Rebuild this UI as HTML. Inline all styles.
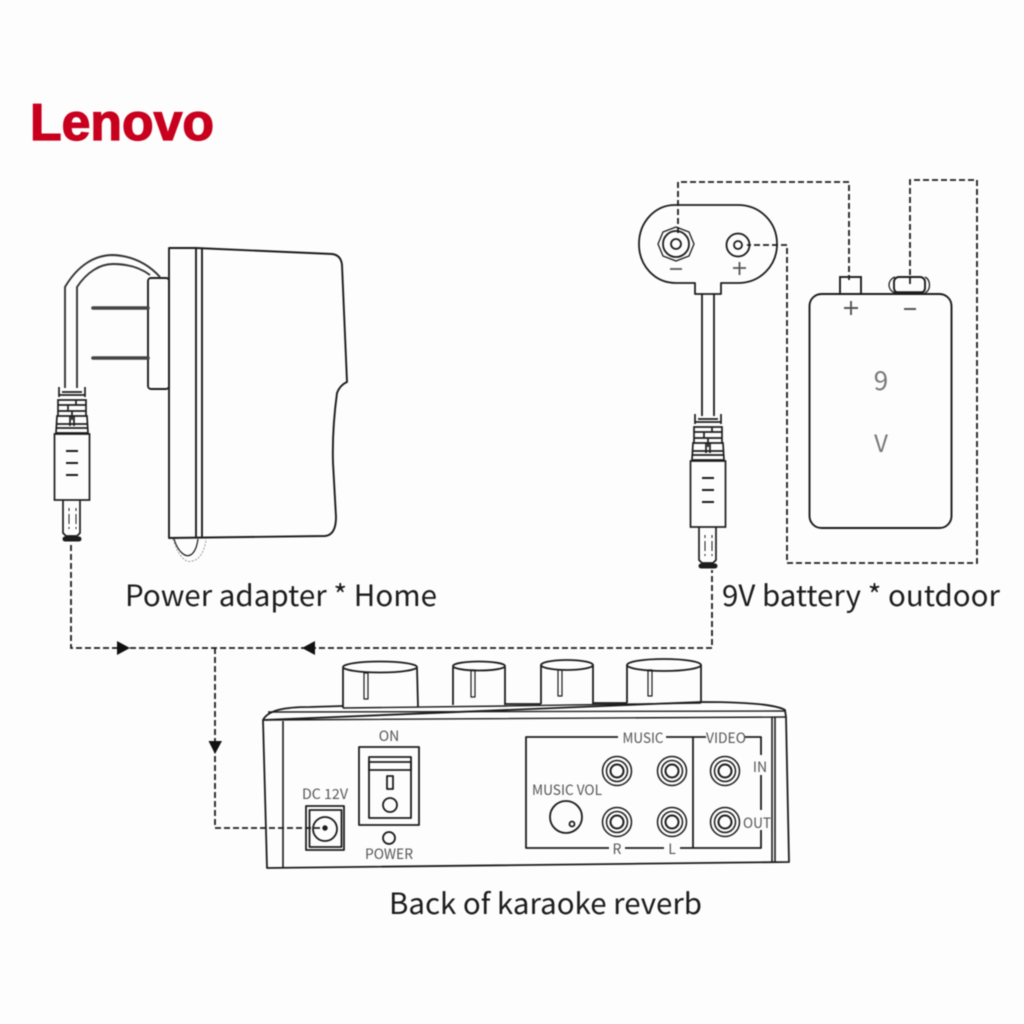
<!DOCTYPE html>
<html><head><meta charset="utf-8"><style>
html,body{margin:0;padding:0;background:#fdfdfd}
svg{display:block;filter:blur(.5px)}
text{font-family:"Noto Sans CJK SC","Liberation Sans",sans-serif}
.g{fill:#555;font-size:14px;text-anchor:middle}
.c{fill:#1c1c1c;font-size:29px}
</style></head><body>
<svg width="1024" height="1024" viewBox="0 0 1024 1024" xmlns="http://www.w3.org/2000/svg">
<defs>
<g id="conn" fill="none" stroke="#1c1c1c" stroke-width="1.700">
<path d="M59 387V397M85 387V397M59 395H85M62 392H82M58 400H86V416H58ZM58 405H86M58 411H86M68 405V411M76 400V405M72 411V420M57 416H87L88 433H56ZM56 424H88M56 428H88M70 416V426M74 416V426"/>
<rect x="54.500" y="434" width="35" height="66" fill="#fdfdfd"/>
<path d="M66 451H78M66 463H78M66 475H78" stroke-width="2"/>
<path d="M63 500V533L66 536H77L80 533V500"/>
<path d="M69 508V511M76 508V511M69 514V524M76 514V524M69 527V529M76 527V529" stroke-width="1"/>
<path d="M65 539H79" stroke-width="5" stroke-linecap="round"/>
</g>
</defs>
<rect width="1024" height="1024" fill="#fdfdfd"/>

<!-- Logo -->
<text x="30" y="140" font-size="52" font-weight="700" fill="#c8001e" stroke="#c8001e" stroke-width="1.300" textLength="184" lengthAdjust="spacingAndGlyphs" style='font-family:"Liberation Sans",sans-serif'>Lenovo</text>

<!-- Adapter -->
<g fill="none" stroke="#1c1c1c" stroke-width="1.900" stroke-linejoin="round">
<path d="M169 248L196 248 332 254Q341 255 342 265L347 382Q340 385 337 393 332 430 333 463L336 517Q336 535 325 536L169 538Z"/>
<path d="M196 248V538M202 248V538"/>
<rect x="148" y="278" width="21" height="111" rx="3"/>
<path d="M148 308H93M148 358H93" stroke-width="3.600" stroke="#444" stroke-linecap="round"/>
<path d="M65 388V287C78 265 95 255 113 255 135 256 150 266 160 277" stroke="#333"/>
<path d="M77 388V287C87 272 100 264 113 264 130 264 142 269 150 275" stroke="#333"/>
<path d="M174 539C178 552 186 559 192 554 196 550 197 545 198 539" stroke-width="1.200"/>
<path d="M173 539C177 552 184 564 192 561 200 560 205 550 206 539" stroke="#999" stroke-width="1" stroke-dasharray="2 1.500"/>
</g>
<use href="#conn"/>

<!-- Battery clip -->
<g fill="none" stroke="#1c1c1c" stroke-width="1.800" stroke-linejoin="round">
<path d="M675 205H738C760 205 777 222 777 244 777 266 760 283 738 283H721V294H695V283H676C655 283 639 266 639 244 639 222 655 205 675 205Z"/>
<path d="M702 294V416M714 294V416"/>
<path d="M676 227L689 232 694 244 689 256 676 261 663 256 658 244 663 232Z" stroke-width="1.300"/>
<circle cx="676" cy="244" r="13"/><circle cx="676" cy="244" r="5"/>
<circle cx="738" cy="245" r="11.500"/><circle cx="738" cy="245" r="4"/>
<path d="M670 269H682M733 268H746M739.500 262V275" stroke="#555"/>
</g>
<use href="#conn" transform="translate(636 27)"/>

<!-- Battery -->
<g fill="none" stroke="#1c1c1c" stroke-width="1.900">
<rect x="809.500" y="294" width="142" height="234" rx="12"/>
<rect x="840" y="277" width="21" height="17"/>
<rect x="894" y="277" width="31" height="16" rx="5"/>
<path d="M895 277C887 280 887 290 895 293M925 277C931 280 931 290 925 293" stroke-width="1.300"/>
<path d="M895 293H924" stroke-width="3.500"/>
<path d="M844 308H858M851 301V315M904 309H916" stroke="#555"/>
</g>
<text x="881" y="390" fill="#777" font-size="26" text-anchor="middle">9</text>
<text x="881" y="452" fill="#777" font-size="24" text-anchor="middle">V</text>

<!-- Dashed -->
<g fill="none" stroke="#1c1c1c" stroke-width="1.800" stroke-dasharray="6 3">
<path d="M678 233V182H849V280"/>
<path d="M910 284V180H977V563H787V245H747"/>
<path d="M71 545V648H712V570"/>
<path d="M215 648V828H322"/>
</g>
<path d="M117 641L130 648 117 655ZM315 641L302 648 315 655ZM208.500 741H222L215 754Z" fill="#111"/>

<!-- Device -->
<g fill="none" stroke="#1c1c1c" stroke-width="1.800" stroke-linejoin="round">
<path d="M263 720C268 710 285 707 310 707L343 706M505 704H541M593 703H627M701 702C745 702 775 704 785 710L786 717 789 862 267 868 263 720Z"/>
<path d="M343 708L505 706 701 703M268 712L785 711M265 720L786 717" stroke-width="1.400"/>
<path d="M283 721V868M772 717V862M775 717V862" stroke-width="1.600"/>
<path d="M343 668V708M417 668L418 707"/>
<ellipse cx="380" cy="667" rx="37" ry="5.500"/>
<path d="M453 667V705M505 667V705"/><ellipse cx="479" cy="666" rx="26" ry="4.500"/>
<path d="M541 665V704M593 665V704"/><ellipse cx="567" cy="665" rx="26" ry="5"/>
<path d="M627 665V703M701 665V703"/><ellipse cx="664" cy="665" rx="37" ry="6"/>
<rect x="364" y="673" width="4" height="26" stroke-width="1.200"/>
<rect x="471" y="670" width="4" height="27" stroke-width="1.200"/>
<rect x="558" y="670" width="4" height="26" stroke-width="1.200"/>
<rect x="648" y="670" width="4" height="26" stroke-width="1.200"/>

<rect x="306" y="806" width="38" height="44"/>
<rect x="309.500" y="810" width="32" height="37"/>
<circle cx="325" cy="829" r="12"/>
<circle cx="325" cy="828" r="1.800" fill="#222"/>

<rect x="359" y="747" width="60" height="78"/>
<rect x="369" y="757" width="42" height="61"/>
<path d="M369 762H411V770H369Z"/>
<rect x="387" y="776" width="6" height="13"/>
<circle cx="390" cy="805" r="7"/>
<circle cx="389" cy="838" r="6"/>

<path d="M618 737H526V848H609M625 848H664M680 848H761V830M761 810V775M761 755V737H745M706 737H666M693 737V848"/>
<circle cx="566" cy="817" r="16"/><circle cx="572" cy="824" r="2.500"/>
<g stroke-width="1.500">
<circle cx="617" cy="771" r="14.500"/><circle cx="617" cy="771" r="10.500"/><circle cx="617" cy="771" r="6.500" stroke-width="2"/>
<circle cx="672" cy="771" r="14.500"/><circle cx="672" cy="771" r="10.500"/><circle cx="672" cy="771" r="6.500" stroke-width="2"/>
<circle cx="725" cy="771" r="14.500"/><circle cx="725" cy="771" r="10.500"/><circle cx="725" cy="771" r="6.500" stroke-width="2"/>
<circle cx="617" cy="822" r="14.500"/><circle cx="617" cy="822" r="10.500"/><circle cx="617" cy="822" r="6.500" stroke-width="2"/>
<circle cx="672" cy="822" r="14.500"/><circle cx="672" cy="822" r="10.500"/><circle cx="672" cy="822" r="6.500" stroke-width="2"/>
<circle cx="725" cy="822" r="14.500"/><circle cx="725" cy="822" r="10.500"/><circle cx="725" cy="822" r="6.500" stroke-width="2"/>
</g>
</g>
<text class="g" x="389" y="741">ON</text>
<text class="g" x="389" y="859" textLength="48" lengthAdjust="spacingAndGlyphs">POWER</text>
<text class="g" x="325" y="799" textLength="46" lengthAdjust="spacingAndGlyphs">DC 12V</text>
<text class="g" x="643" y="743" textLength="41" lengthAdjust="spacingAndGlyphs">MUSIC</text>
<text class="g" x="726" y="743" textLength="40" lengthAdjust="spacingAndGlyphs">VIDEO</text>
<text class="g" x="760" y="772">IN</text>
<text class="g" x="757" y="828" textLength="28" lengthAdjust="spacingAndGlyphs">OUT</text>
<text class="g" x="567" y="795" textLength="70" lengthAdjust="spacingAndGlyphs">MUSIC VOL</text>
<text class="g" x="617" y="854">R</text>
<text class="g" x="672" y="854">L</text>

<!-- Captions -->
<text class="c" x="125" y="606" textLength="312" lengthAdjust="spacingAndGlyphs">Power adapter * Home</text>
<text class="c" x="722" y="606" textLength="278" lengthAdjust="spacingAndGlyphs">9V battery * outdoor</text>
<text class="c" x="389" y="914" textLength="313" lengthAdjust="spacingAndGlyphs">Back of karaoke reverb</text>
</svg>
</body></html>
